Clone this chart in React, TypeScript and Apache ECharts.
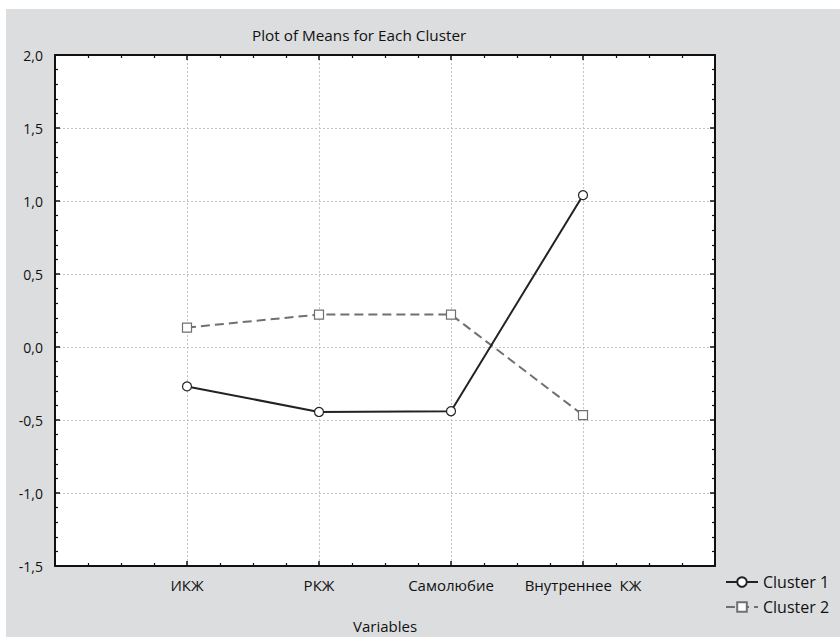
import React, { useEffect, useRef } from "react";
import * as echarts from "echarts";

const categories = ["ИКЖ", "РКЖ", "Самолюбие", "Внутреннее  КЖ"];
const cluster1 = [-0.27, -0.445, -0.44, 1.04];
const cluster2 = [0.133, 0.222, 0.222, -0.466];
const seriesNames = ["Cluster 1", "Cluster 2"];
const titleText = "Plot of Means for Each Cluster";
const xAxisName = "Variables";

const FONT = "'Open Sans', 'Noto Sans', sans-serif";

export default function App() {
  const ref = useRef<HTMLDivElement>(null);
  useEffect(() => {
    if (!ref.current) return;
    const chart = echarts.init(ref.current, null, { renderer: "svg" });
    const toPts = (arr: number[]) => arr.map((v, i) => [i + 1, v]);
    const tickCommon = {
      axisLine: { show: true, onZero: false, lineStyle: { color: "#111", width: 2 } },
      axisTick: { show: true, inside: true, length: 5, lineStyle: { color: "#111", width: 1.5 } },
      minorTick: { show: true, length: 3, lineStyle: { color: "#111", width: 1.2 } },
    };
    const gridLine = { show: true, lineStyle: { color: "#c4c4c4", type: [2, 2] as any, width: 1 } };
    chart.setOption({
      animation: false,
      backgroundColor: "#ffffff",
      textStyle: { fontFamily: FONT },
      graphic: {
        z: -10,
        elements: [
          {
            type: "rect",
            z: -10,
            silent: true,
            shape: { x: 6, y: 9, width: 834, height: 628 },
            style: { fill: "#dcdddf" },
          },
        ],
      },
      title: {
        text: titleText,
        left: 247,
        top: 22,
        textStyle: { fontFamily: FONT, fontWeight: "normal", fontSize: 15.3, color: "#111" },
      },
      grid: {
        left: 55,
        top: 55,
        right: 125,
        bottom: 71,
        show: true,
        backgroundColor: "#ffffff",
        borderWidth: 0,
        containLabel: false,
      },
      legend: {
        orient: "vertical",
        left: 720,
        top: 569,
        itemWidth: 32,
        itemHeight: 12,
        itemGap: 9,
        textStyle: { fontFamily: FONT, fontSize: 16, color: "#111" },
        data: seriesNames,
      },
      xAxis: [
        {
          type: "value",
          position: "bottom",
          min: 0,
          max: 5,
          interval: 1,
          ...tickCommon,
          minorTick: { ...tickCommon.minorTick, splitNumber: 4 },
          axisLabel: {
            margin: 11,
            fontFamily: FONT,
            fontSize: 15,
            color: "#111",
            formatter: (v: number) => categories[v - 1] ?? "",
          },
          splitLine: gridLine,
          name: xAxisName,
          nameLocation: "middle",
          nameGap: 52,
          nameTextStyle: { fontFamily: FONT, fontSize: 15, color: "#111" },
        },
        {
          type: "value",
          position: "top",
          min: 0,
          max: 5,
          interval: 1,
          ...tickCommon,
          minorTick: { ...tickCommon.minorTick, splitNumber: 4 },
          axisLabel: { show: false },
          splitLine: { show: false },
        },
      ],
      yAxis: [
        {
          type: "value",
          position: "left",
          min: -1.5,
          max: 2,
          interval: 0.5,
          ...tickCommon,
          minorTick: { ...tickCommon.minorTick, splitNumber: 5 },
          axisLabel: {
            margin: 12,
            fontFamily: FONT,
            fontSize: 14,
            color: "#111",
            formatter: (v: number) => v.toFixed(1).replace(".", ","),
          },
          splitLine: gridLine,
        },
        {
          type: "value",
          position: "right",
          min: -1.5,
          max: 2,
          interval: 0.5,
          ...tickCommon,
          minorTick: { ...tickCommon.minorTick, splitNumber: 5 },
          axisLabel: { show: false },
          splitLine: { show: false },
        },
      ],
      series: [
        {
          name: seriesNames[0],
          type: "line",
          data: toPts(cluster1),
          symbol: "circle",
          symbolSize: 9,
          lineStyle: { color: "#222", width: 2 },
          itemStyle: { color: "#ffffff", borderColor: "#222", borderWidth: 1.2 },
          z: 3,
        },
        {
          name: seriesNames[1],
          type: "line",
          data: toPts(cluster2),
          symbol: "rect",
          symbolSize: 9,
          lineStyle: { color: "#707070", width: 2, type: [9, 5] },
          itemStyle: { color: "#ffffff", borderColor: "#707070", borderWidth: 1.2 },
          z: 2,
        },
      ],
    });
    return () => chart.dispose();
  }, []);
  return (
    <div
      ref={ref}
      style={{ position: "fixed", left: 0, top: 0, width: 840, height: 638 }}
    />
  );
}
